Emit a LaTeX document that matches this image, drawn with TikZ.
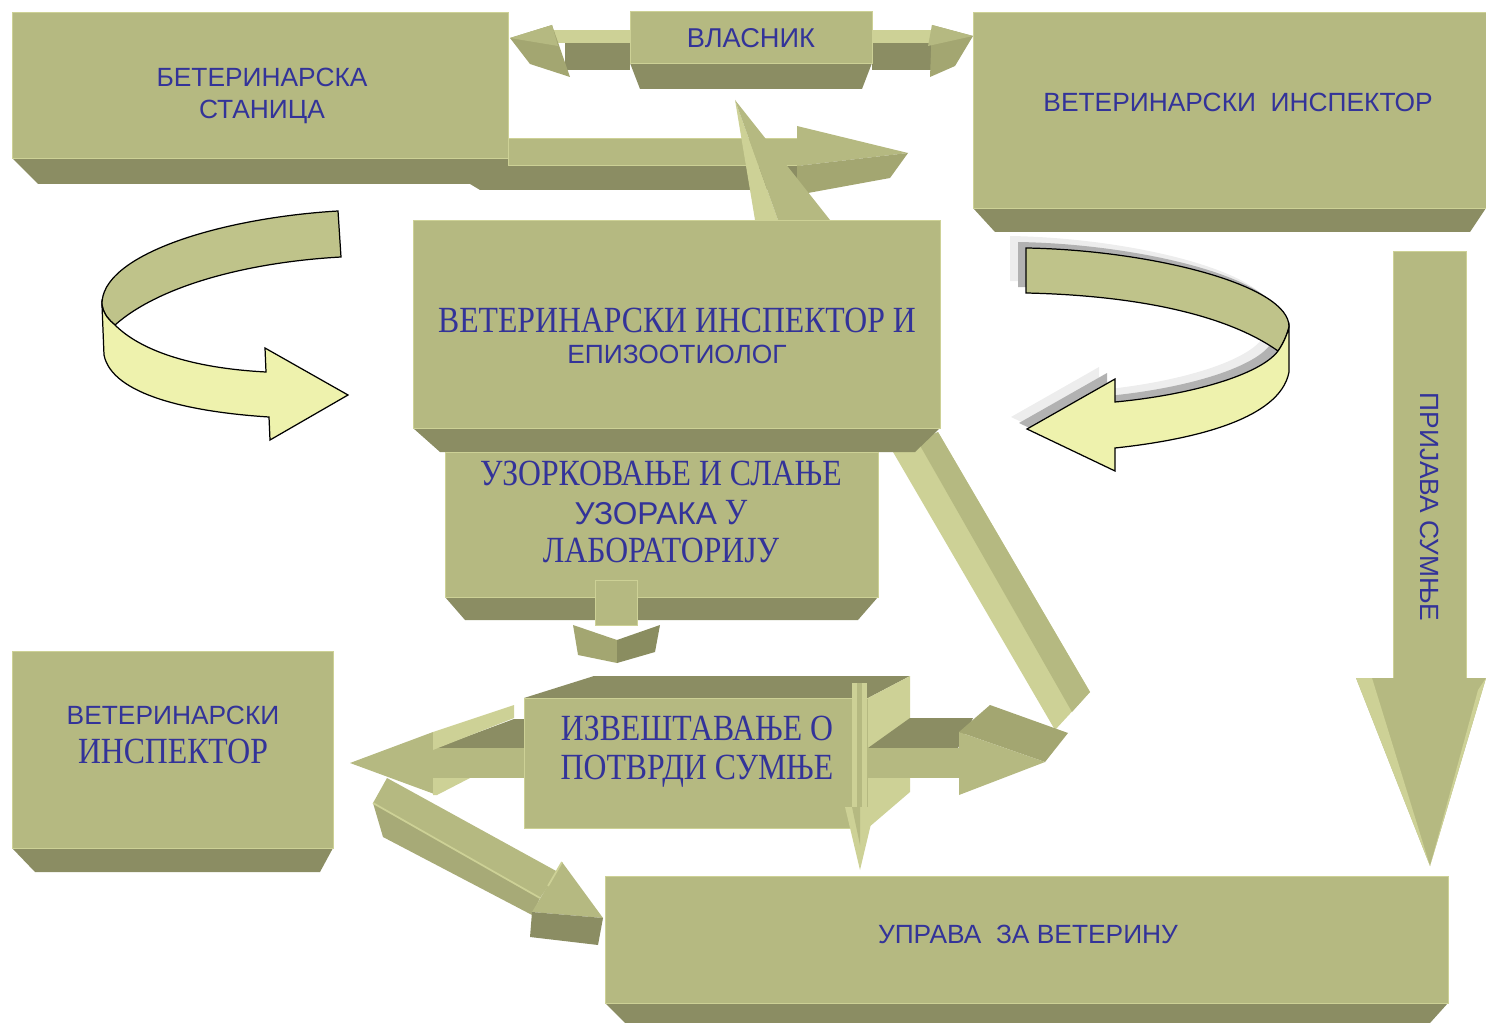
\documentclass[tikz,border=0pt]{standalone}
\usepackage{fontspec}
\setmainfont{Liberation Sans}
\newfontfamily\srf[FakeStretch=0.86]{Liberation Serif}
\definecolor{face}{HTML}{B5B981}
\definecolor{dark}{HTML}{8B8D63}
\definecolor{mid}{HTML}{A3A671}
\definecolor{hl}{HTML}{CDD196}
\definecolor{curlA}{HTML}{BFC38A}
\definecolor{curlB}{HTML}{EEF2AD}
\definecolor{ink}{HTML}{333399}
\begin{document}
\begin{tikzpicture}[x=0.02cm,y=-0.02cm]
	\tikzset{box/.style={fill=face,draw=hl,line width=.5pt},bot/.style={fill=dark},
		sid/.style={fill=mid},lit/.style={fill=hl},
		lbl/.style={text=ink,align=center,font=\fontsize{15}{18}\selectfont},
		slbl/.style={text=ink,align=center,font=\fontsize{21}{22}\srf},
		curl/.style={draw=black,line width=.7pt}}
	\useasboundingbox (0,0) rectangle (1486,1023);

	% stanica and its arrow
	\fill[bot] (12,158) -- (508,158) -- (508,165) -- (800,165) -- (800,190) -- (480,190) -- (470,184) -- (38,184) -- cycle;
	\draw[box] (12,12) rectangle (508,158);
	\draw[box] (508,138) rectangle (800,165);
	\fill[face] (797,126) -- (908,153) -- (797,166) -- cycle;
	\fill[sid] (797,166) -- (908,153) -- (890,178) -- (797,195) -- cycle;
	\node[lbl] (stanica) at (262,96) {БЕТЕРИНАРСКА\\СТАНИЦА};

	% spike
	\fill[lit] (735,100) -- (755,220) -- (778,220) -- cycle;
	\fill[face] (735,100) -- (778,220) -- (830,220) -- cycle;

	% vlasnik
	\fill[lit] (552,30) rectangle (630,43);
	\fill[bot] (565,43) rectangle (630,70);
	\fill[sid] (510,38) -- (552,25) -- (570,77) -- (530,64) -- cycle;
	\fill[face] (510,38) -- (552,25) -- (558,46) -- cycle;
	\fill[lit] (872,30) rectangle (950,43);
	\fill[bot] (872,43) rectangle (940,70);
	\fill[sid] (973,36) -- (932,25) -- (930,77) -- (955,66) -- cycle;
	\fill[face] (973,36) -- (932,25) -- (928,46) -- cycle;
	\fill[bot] (630,63) -- (872,63) -- (862,89) -- (640,89) -- cycle;
	\draw[box] (630,11) rectangle (872,63);
	\node[lbl,font=\fontsize{15.5}{18}\selectfont] (vlasnik) at (751,38) {ВЛАСНИК};

	% veterinarski inspektor (top right)
	\fill[bot] (973,208) -- (1486,208) -- (1470,232) -- (995,232) -- cycle;
	\draw[box] (973,12) rectangle (1486,208);
	\node[lbl] (vinsp) at (1238,102) {ВЕТЕРИНАРСКИ\ \ ИНСПЕКТОР};

	% diagonal arrow
	\fill[lit] (893,452) -- (938,432) -- (1090,692) -- (1055,730) -- cycle;
	\fill[face] (918,442) -- (938,432) -- (1090,692) -- (1072,712) -- cycle;

	% center
	\fill[bot] (413,428) -- (940,428) -- (915,452) -- (440,452) -- cycle;
	\draw[box] (413,220) rectangle (940,428);
	\node[lbl,align=center] (epiz) at (677,336) {{\srf\fontsize{21}{22}\selectfont ВЕТЕРИНАРСКИ ИНСПЕКТОР И}\\[0pt]ЕПИЗООТИОЛОГ};

	% uzorkovanje
	\fill[bot] (445,597) -- (878,597) -- (858,620) -- (465,620) -- cycle;
	\draw[box] (445,452) rectangle (878,597);
	\node[slbl] (uzork) at (661,512) {УЗОРКОВАЊЕ И СЛАЊЕ\\{\rmfamily\fontsize{18}{22}\selectfont УЗОРАКА} У\\ЛАБОРАТОРИЈУ};
	\draw[box] (595,580) rectangle (637,625);
	\fill[sid] (573,625) -- (617,640) -- (617,663) -- (578,655) -- cycle;
	\fill[mid!85!black] (617,640) -- (660,625) -- (655,652) -- (617,663) -- cycle;

	% left curl
	\draw[curl,fill=curlA] (338,211) .. controls (220,218) and (100,255) .. (102,305)
		.. controls (104,315) and (109,320) .. (115,325) .. controls (160,285) and (250,262) .. (341,257) -- cycle;
	\draw[curl,fill=curlB] (102,305) -- (104,355) .. controls (112,395) and (190,412) .. (269,417)
		-- (270,440) -- (348,395) -- (265,348) -- (266,372) .. controls (190,368) and (140,350) .. (115,325)
		.. controls (109,320) and (104,315) .. (102,305) -- cycle;

	% right curl with shadow
	\foreach \d/\c in {16/black!7,8/black!30}{
		\fill[\c,shift={(-\d,-0.75*\d)}] (1026,248) .. controls (1150,250) and (1290,285) .. (1289,327) -- (1289,372)
			.. controls (1280,420) and (1190,440) .. (1115,448) -- (1115,471) -- (1027,429) -- (1115,379) -- (1115,402)
			.. controls (1190,395) and (1260,375) .. (1278,351) .. controls (1220,310) and (1120,295) .. (1026,293) -- cycle;
	}
	\draw[curl,fill=curlA] (1026,248) .. controls (1150,250) and (1290,285) .. (1289,327)
		.. controls (1287,335) and (1283,344) .. (1278,351) .. controls (1220,310) and (1120,295) .. (1026,293) -- cycle;
	\draw[curl,fill=curlB] (1289,327) -- (1289,372) .. controls (1280,420) and (1190,440) .. (1115,448)
		-- (1115,471) -- (1027,429) -- (1115,379) -- (1115,402) .. controls (1190,395) and (1260,375) .. (1278,351)
		.. controls (1283,344) and (1287,335) .. (1289,327) -- cycle;

	% prijava sumnje
	\draw[box] (1393,251) rectangle (1466,678);
	\fill[face] (1356,678) -- (1486,678) -- (1430,866) -- cycle;
	\fill[lit] (1356,678) -- (1372,678) -- (1430,866) -- cycle;
	\fill[lit] (1486,678) -- (1478,690) -- (1430,866) -- cycle;
	\node[lbl,rotate=-90] (prijava) at (1430,507) {ПРИЈАВА СУМЊЕ};

	% veterinarski inspektor (left)
	\fill[bot] (12,848) -- (333,848) -- (320,872) -- (35,872) -- cycle;
	\draw[box] (12,651) rectangle (333,848);
	\node[lbl] (linsp) at (173,735) {ВЕТЕРИНАРСКИ\\[4pt]{\srf\fontsize{21}{22}\selectfont ИНСПЕКТОР}};

	% arrow to uprava
	\fill[face] (387,778) -- (558,872) -- (540,898) -- (373,803) -- cycle;
	\fill[face!92!black] (373,803) -- (540,898) -- (532,915) -- (383,837) -- cycle;
	\draw[hl,line width=1pt] (373,803) -- (540,898);
	\fill[face] (532,912) -- (562,862) -- (603,918) -- cycle;
	\draw[hl,line width=1pt] (548,886) -- (562,862);
	\fill[bot] (532,912) -- (603,918) -- (598,945) -- (530,937) -- cycle;

	% izvestavanje with arrows
	\fill[bot] (433,749) -- (514,719) -- (524,719) -- (524,749) -- cycle;
	\fill[face] (433,748) rectangle (524,778);
	\fill[face] (350,763) -- (433,732) -- (437,795) -- cycle;
	\fill[lit] (433,732) -- (514,705) -- (514,718) -- (433,750) -- cycle;
	\fill[lit] (433,778) -- (470,778) -- (437,795) -- (433,795) -- cycle;
	\fill[bot] (524,698) -- (868,698) -- (910,676) -- (594,676) -- cycle;
	\draw[box] (524,698) rectangle (868,828);
	\fill[lit] (868,698) -- (910,676) -- (910,792) -- (868,828) -- cycle;
	\fill[bot] (868,748) -- (910,718) -- (973,718) -- (958,748) -- cycle;
	\fill[face] (868,748) rectangle (959,778);
	\fill[sid] (959,732) -- (990,705) -- (1068,733) -- (1045,762) -- cycle;
	\fill[face] (959,732) -- (1045,762) -- (959,795) -- cycle;
	\fill[lit] (852,683) rectangle (867,807);
	\fill[face] (857,683) rectangle (862,807);
	\fill[lit] (845,807) -- (875,807) -- (860,870) -- cycle;
	\fill[face] (852,807) -- (860,807) -- (860,845) -- cycle;
	\node[slbl] (izvest) at (697,752) {ИЗВЕШТАВАЊЕ О\\ПОТВРДИ СУМЊЕ};

	% uprava
	\fill[bot] (605,1003) -- (1448,1003) -- (1430,1023) -- (625,1023) -- cycle;
	\draw[box] (605,876) rectangle (1448,1003);
	\node[lbl] (uprava) at (1028,934) {УПРАВА\ \ ЗА ВЕТЕРИНУ};
\end{tikzpicture}
\end{document}
